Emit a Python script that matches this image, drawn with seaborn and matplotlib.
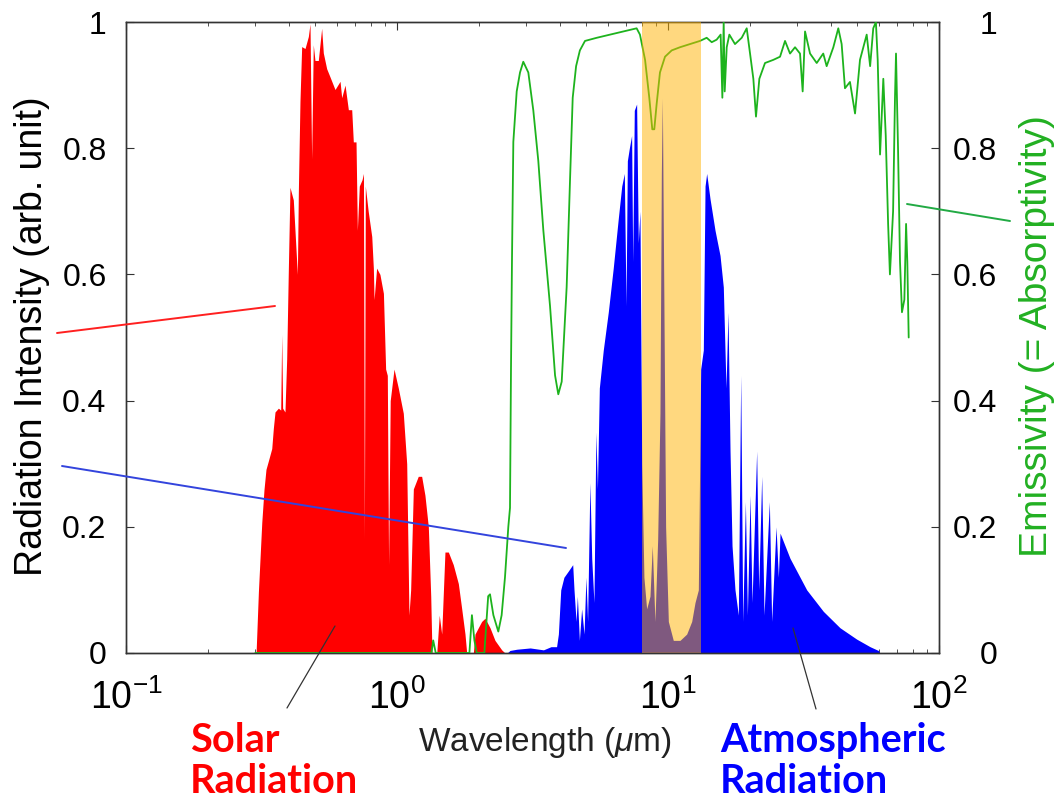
import numpy as np
import pandas as pd
import seaborn as sns
import matplotlib
matplotlib.use("Agg")
import matplotlib.pyplot as plt
from matplotlib.lines import Line2D
from matplotlib.ticker import LogLocator, NullFormatter

# ---------------- data ----------------
solar_wl = [0.295, 0.302, 0.308, 0.317, 0.323, 0.3285, 0.335, 0.345, 0.3497, 0.3547, 0.365,
            0.3723, 0.3755, 0.3784, 0.386, 0.3917, 0.397, 0.4028, 0.4144, 0.4289, 0.4325,
            0.4385, 0.4449, 0.4577, 0.4708, 0.4775, 0.4842, 0.491, 0.4981, 0.5124, 0.5272,
            0.5347, 0.5502, 0.566, 0.5906, 0.6164, 0.6251, 0.6431, 0.6615, 0.6806, 0.690,
            0.706, 0.714, 0.726, 0.743, 0.752, 0.758, 0.764, 0.783, 0.807, 0.818, 0.823,
            0.841, 0.865, 0.891, 0.908, 0.921, 0.931, 0.944, 0.975, 1.011, 1.055, 1.086,
            1.107, 1.123, 1.149, 1.198, 1.233, 1.268, 1.305, 1.332, 1.346, 1.402, 1.432,
            1.462, 1.503, 1.547, 1.613, 1.684, 1.733, 1.782, 1.808, 1.913, 1.940, 1.995,
            2.053, 2.112, 2.204, 2.299, 2.434, 2.503]
solar_int = [0.0, 0.0, 0.097, 0.207, 0.259, 0.291, 0.304, 0.324, 0.356, 0.382, 0.388,
             0.385, 0.505, 0.388, 0.382, 0.466, 0.602, 0.738, 0.718, 0.60, 0.731,
             0.874, 0.961, 0.958, 0.977, 0.997, 0.783, 0.964, 0.939, 0.939, 0.99,
             0.951, 0.926, 0.913, 0.893, 0.906, 0.88, 0.90, 0.861, 0.861, 0.81,
             0.81, 0.67, 0.74, 0.75, 0.76, 0.18, 0.74, 0.70, 0.66, 0.61, 0.56,
             0.61, 0.60, 0.57, 0.45, 0.44, 0.14, 0.40, 0.45, 0.42, 0.38, 0.30,
             0.06, 0.10, 0.26, 0.28, 0.28, 0.25, 0.20, 0.09, 0.0, 0.0, 0.06,
             0.03, 0.16, 0.16, 0.14, 0.11, 0.07, 0.03, 0.0, 0.0, 0.03, 0.04,
             0.05, 0.055, 0.04, 0.02, 0.005, 0.0]

atmo_wl = [2.55, 2.61, 2.77, 3.1, 3.47, 3.7, 3.88, 3.94, 4.02, 4.13, 4.29, 4.45, 4.50, 4.58,
           4.63, 4.71, 4.80, 4.90, 4.98, 5.05, 5.15, 5.23, 5.33, 5.42, 5.49, 5.58, 5.77,
           6.02, 6.28, 6.56, 6.75, 6.90, 7.00, 7.08, 7.20, 7.34, 7.41, 7.51, 7.66, 7.77,
           7.88, 8.00, 8.15, 8.34, 8.58, 8.75, 8.95, 9.16, 9.34, 9.45, 9.53, 9.64, 9.80,
           10.03, 10.46, 11.07, 11.72, 12.23, 12.58, 12.94, 13.20, 13.50, 13.70, 13.89,
           14.29, 14.91, 15.56, 16.00, 16.37, 16.65, 16.94, 17.23, 17.67, 18.18, 18.55,
           18.87, 19.30, 19.63, 20.08, 20.42, 21.24, 21.61, 22.17, 22.61, 23.66, 24.13,
           25.04, 25.54, 25.91, 28.20, 32.50, 37.43, 43.12, 49.68, 55.66, 59.72, 60.5]
atmo_int = [0.0, 0.004, 0.006, 0.008, 0.005, 0.01, 0.01, 0.03, 0.10, 0.12, 0.13, 0.14, 0.10,
            0.05, 0.09, 0.02, 0.07, 0.03, 0.12, 0.05, 0.27, 0.15, 0.08, 0.35, 0.26, 0.42,
            0.48, 0.54, 0.61, 0.69, 0.74, 0.76, 0.55, 0.78, 0.80, 0.82, 0.62, 0.86, 0.87,
            0.65, 0.70, 0.30, 0.12, 0.07, 0.09, 0.17, 0.05, 0.18, 0.38, 0.76, 0.88, 0.60,
            0.20, 0.05, 0.02, 0.02, 0.03, 0.05, 0.08, 0.10, 0.45, 0.48, 0.74, 0.76, 0.72,
            0.67, 0.63, 0.58, 0.42, 0.54, 0.32, 0.17, 0.10, 0.06, 0.44, 0.05, 0.24, 0.06,
            0.25, 0.08, 0.32, 0.10, 0.28, 0.06, 0.24, 0.05, 0.20, 0.12, 0.19, 0.150,
            0.100, 0.066, 0.040, 0.022, 0.010, 0.004, 0.0]

emis_wl = [0.30, 1.34, 1.36, 1.39, 1.85, 1.89, 1.93, 1.97, 2.10, 2.17, 2.204, 2.268, 2.365,
           2.433, 2.503, 2.575, 2.612, 2.634, 2.656, 2.687, 2.765, 2.844, 2.924, 3.052,
           3.184, 3.322, 3.467, 3.67, 3.83, 3.937, 4.053, 4.227, 4.35, 4.45, 4.58, 4.73,
           4.94, 5.46, 6.11, 6.84, 7.66, 7.88, 8.23, 8.53, 8.75, 8.90, 9.08, 9.34, 9.75,
           10.32, 11.07, 12.05, 13.12, 13.89, 14.5, 15.12, 15.64, 15.87, 16.05, 16.19,
           16.47, 16.84, 17.67, 18.71, 19.52, 20.08, 20.65, 21.12, 21.73, 22.80, 24.47,
           25.91, 27.03, 28.2, 29.43, 30.7, 31.4, 32.04, 33.43, 35.38, 37.4, 38.5, 40.75,
           42.5, 43.73, 44.98, 46.93, 49.0, 51.1, 54.1, 55.7, 57.2, 58.5, 59.4, 60.6, 62.3,
           63.6, 64.9, 65.9, 67.7, 68.8, 69.4, 70.6, 71.8, 73.0, 74.5, 75.6, 76.4, 77.3]
emis_val = [0.0, 0.0, 0.02, 0.0, 0.0, 0.06, 0.02, 0.0, 0.0, 0.09, 0.093, 0.06, 0.034,
            0.06, 0.12, 0.20, 0.23, 0.45, 0.62, 0.81, 0.89, 0.92, 0.937, 0.92,
            0.86, 0.78, 0.67, 0.55, 0.44, 0.41, 0.43, 0.58, 0.75, 0.88, 0.93, 0.955,
            0.97, 0.975, 0.98, 0.985, 0.99, 0.98, 0.94, 0.88, 0.83, 0.83, 0.87, 0.92, 0.945,
            0.955, 0.96, 0.965, 0.97, 0.975, 0.968, 0.972, 0.98, 0.88, 1.0, 0.89,
            0.96, 0.98, 0.965, 0.975, 0.99, 0.95, 0.91, 0.85, 0.91, 0.935, 0.94,
            0.945, 0.97, 0.95, 0.96, 0.95, 0.89, 0.985, 0.95, 0.935, 0.95, 0.93, 0.96,
            0.99, 0.965, 0.895, 0.905, 0.855, 0.94, 0.98, 0.93, 0.99, 1.0, 0.94, 0.79, 0.91,
            0.82, 0.68, 0.60, 0.70, 0.88, 0.95, 0.80, 0.62, 0.54, 0.56, 0.68, 0.62, 0.50]

window_band = [8.0, 13.2]
y_ticks = [0, 0.2, 0.4, 0.6, 0.8, 1.0]
y_tick_labels = ["0", "0.2", "0.4", "0.6", "0.8", "1"]
x_limits = [0.1, 100]

# ---------------- style ----------------
sns.set_style("white")
plt.rcParams["font.family"] = ["Liberation Sans", "DejaVu Sans"]
plt.rcParams["mathtext.fontset"] = "custom"
plt.rcParams["mathtext.rm"] = "Liberation Sans"
plt.rcParams["mathtext.it"] = "Liberation Sans:italic"

W, H = 1059, 807
fig = plt.figure(figsize=(W / 100, H / 100), dpi=100)
fig.patch.set_facecolor("white")
L, R, T, B = 126, 939, 22, 653
ax = fig.add_axes([L / W, 1 - B / H, (R - L) / W, (B - T) / H])
ax2 = ax.twinx()

RED = "#FF0000"
BLUE = "#0000FF"
GREEN = "#1DB31D"

solar = pd.DataFrame({"wl": solar_wl, "I": solar_int})
atmo = pd.DataFrame({"wl": atmo_wl, "I": atmo_int})
emis = pd.DataFrame({"wl": emis_wl, "e": emis_val})

ax.fill_between(solar["wl"], 0, solar["I"], color=RED, lw=0, zorder=2)
ax.fill_between(atmo["wl"], 0, atmo["I"], color=BLUE, lw=0, zorder=2)

sns.lineplot(data=emis, x="wl", y="e", ax=ax2, color=GREEN, lw=1.3, estimator=None, zorder=3)
ax2.axvspan(window_band[0], window_band[1], color="#FFB300", alpha=0.5, lw=0, zorder=5)

for a in (ax, ax2):
    a.set_xscale("log")
    a.set_xlim(*x_limits)
    a.set_ylim(0, 1)
    a.set_xlabel("")
    a.set_ylabel("")
    for s in a.spines.values():
        s.set_color("#333333")
        s.set_linewidth(1.0)

ax.xaxis.set_major_locator(LogLocator(base=10, numticks=10))
ax.xaxis.set_minor_locator(LogLocator(base=10, subs=np.arange(2, 10), numticks=20))
ax.xaxis.set_minor_formatter(NullFormatter())
ax.tick_params(axis="x", which="both", direction="in", top=True, bottom=True,
               labelsize=27, pad=19, colors="#333333", labelcolor="black")
ax.tick_params(axis="x", which="major", length=6)
ax.tick_params(axis="x", which="minor", length=3)

ax.set_yticks(y_ticks)
ax.set_yticklabels(y_tick_labels)
ax.tick_params(axis="y", direction="in", left=True, right=False, length=6,
               labelsize=23, pad=14, colors="#333333", labelcolor="black")

ax2.set_yticks(y_ticks)
ax2.set_yticklabels(y_tick_labels, ha="right")
ax2.tick_params(axis="y", direction="in", right=True, left=False, length=6,
                labelsize=23, pad=42, colors="#333333", labelcolor="black")
ax2.tick_params(axis="x", which="both", top=False, bottom=False)

# axis labels
def fx(x):
    return x / W

def fy(y):
    return 1 - y / H

fig.text(fx(32), fy(336), "Radiation Intensity (arb. unit)", rotation=90,
         ha="center", va="center", fontsize=27, color="black")
fig.text(fx(1037), fy(336), "Emissivity (= Absorptivity)", rotation=90,
         ha="center", va="center", fontsize=28, color="#22B022")
fig.text(fx(545), fy(743), r"Wavelength ($\mu$m)", ha="center", va="center",
         fontsize=24, color="#222222")

fig.text(fx(190), fy(722), "Solar\nRadiation", ha="left", va="top", color=RED,
         fontsize=28.5, fontweight="bold", family="Lato", linespacing=1.12)
fig.text(fx(720), fy(722), "Atmospheric\nRadiation", ha="left", va="top", color=BLUE,
         fontsize=28.5, fontweight="bold", family="Lato", linespacing=1.12)

# pointer lines
pointers = [
    ((57, 333), (275, 306), "#FF2020", 1.4),
    ((62, 466), (566, 548), "#3344DD", 1.4),
    ((907, 204), (1010, 221), "#22AA44", 1.4),
    ((335, 626), (287, 708), "#333333", 0.9),
    ((793, 628), (816, 709), "#333333", 0.9),
]
for (x0, y0), (x1, y1), c, lw in pointers:
    fig.add_artist(Line2D([fx(x0), fx(x1)], [fy(y0), fy(y1)], color=c, lw=lw,
                          transform=fig.transFigure, zorder=10))

fig.savefig("out.png", dpi=100, facecolor="white")
